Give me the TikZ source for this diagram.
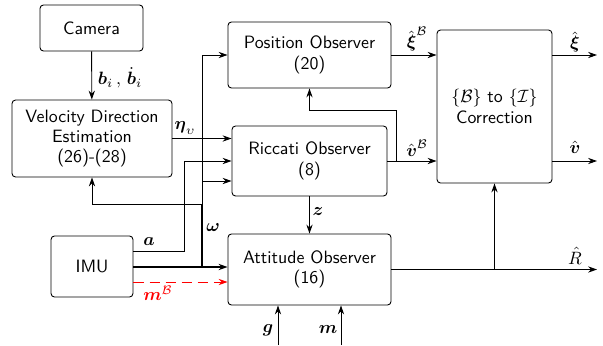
\documentclass[tikz,border=0pt]{standalone}
\usepackage{amsmath,amssymb}
\usetikzlibrary{arrows.meta}
\begin{document}
\begin{tikzpicture}[x=0.56pt,y=-0.56pt,
  box/.style={draw,rounded corners=2pt,line width=0.5pt,align=center,inner sep=0pt,
    font=\sffamily\fontsize{10}{11.4}\selectfont},
  conn/.style={line width=0.5pt,-{Stealth[length=5pt,width=3.5pt]}},
  wire/.style={line width=0.5pt},
  lab/.style={inner sep=0pt}]
\useasboundingbox (0,0) rectangle (603,345);
% boxes
\node[box,minimum width=57.7pt,minimum height=25.8pt] (cam) at (91.5,28) {Camera};
\node[box,minimum width=89.6pt,minimum height=43.1pt] (vde) at (92,138.5) {Velocity Direction\\Estimation\\(26)-(28)};
\node[box,minimum width=91.3pt,minimum height=37pt] (pos) at (309.5,55) {Position Observer\\(20)};
\node[box,minimum width=86.8pt,minimum height=39.2pt] (ric) at (309.5,161) {Riccati Observer\\(8)};
\node[box,minimum width=64.4pt,minimum height=85.7pt] (corr) at (494.5,106.5) {$\{\mathcal{B}\}$ to $\{\mathcal{I}\}$\\Correction};
\node[box,minimum width=91.3pt,minimum height=39.8pt] (att) at (309.5,269.5) {Attitude Observer\\(16)};
\node[box,minimum width=45.9pt,minimum height=34.2pt] (imu) at (92,266.5) {IMU};
% helper coordinates
\coordinate (ya) at (0,251);
\coordinate (yw) at (0,267);
\coordinate (ym) at (0,282);
\coordinate (r2) at (0,161);
\coordinate (r3) at (0,181);
\coordinate (yv) at (0,204);
\coordinate (yb) at (0,110);
\coordinate (xa) at (184,0);
\coordinate (xw) at (202,0);
\coordinate (xb) at (396,0);
\coordinate (xo) at (597,0);
\coordinate (gS) at (278,345);
\coordinate (mS) at (341,345);
% camera -> vde
\draw[conn] (cam) -- (vde);
\node[lab] at (120,78) {$\boldsymbol{b}_i\,,\,\dot{\boldsymbol{b}}_i$};
% eta
\draw[conn] (vde.east) -- (vde.east -| ric.west);
\node[lab] at (185,128) {$\boldsymbol{\eta}_{\upsilon}$};
% a
\draw[conn] (imu.east |- ya) -- (xa |- ya) -- (xa |- r2) -- (ric.west |- r2);
\node[lab] at (149,242) {$\boldsymbol{a}$};
% omega
\draw[conn,line width=0.9pt] (imu.east |- yw) -- (xw |- yw) -- (att.west |- yw);
\draw[conn] (xw |- yw) -- (xw |- pos.west) -- (pos.west);
\draw[wire,line width=0.9pt] (xw |- yw) -- (xw |- yv);
\draw[conn] (xw |- r3) -- (ric.west |- r3);
\draw[conn] (xw |- yv) -- (vde.south |- yv) -- (vde.south);
\node[lab] at (213,228) {$\boldsymbol{\omega}$};
% m^B
\draw[conn,red,dashed,dash pattern=on 6pt off 3pt] (imu.east |- ym) -- (att.west |- ym);
\node[lab,red] at (158,293) {$\boldsymbol{m}^{\mathcal{B}}$};
% z
\draw[conn] (ric.south) -- (att.north);
\node[lab] at (318,212) {$\boldsymbol{z}$};
% g, m
\draw[conn] (gS) -- (gS |- att.south);
\node[lab] at (268,330) {$\boldsymbol{g}$};
\draw[conn] (mS) -- (mS |- att.south);
\node[lab] at (328,330) {$\boldsymbol{m}$};
% attitude out
\draw[conn] (att.east) -- (att.east -| xo);
\draw[conn] (att.east -| corr.south) -- (corr.south);
\node[lab] at (575,256) {$\hat{R}$};
% position out
\draw[conn] (pos.east) -- (pos.east -| corr.west);
\node[lab] at (417,39) {$\hat{\boldsymbol{\xi}}^{\mathcal{B}}$};
% riccati out
\draw[conn] (ric.east) -- (ric.east -| corr.west);
\draw[conn] (xb |- ric.east) -- (xb |- yb) -- (pos.south |- yb) -- (pos.south);
\node[lab] at (417,148) {$\hat{\boldsymbol{v}}^{\mathcal{B}}$};
% outputs
\draw[conn] (corr.east |- pos.east) -- (xo |- pos.east);
\node[lab] at (575,42) {$\hat{\boldsymbol{\xi}}$};
\draw[conn] (corr.east |- ric.east) -- (xo |- ric.east);
\node[lab] at (575,147) {$\hat{\boldsymbol{v}}$};
\end{tikzpicture}
\end{document}
